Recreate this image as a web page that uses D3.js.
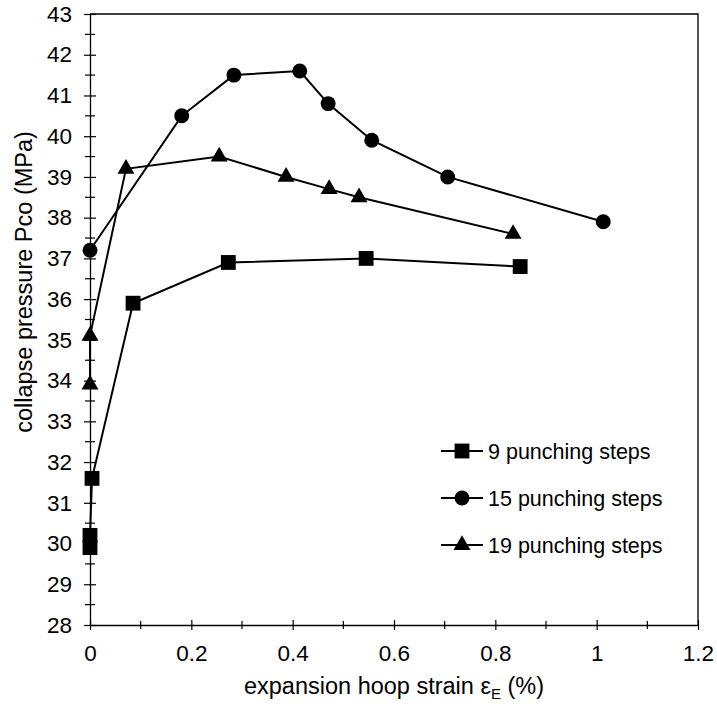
<!DOCTYPE html>
<html>
<head>
<meta charset="utf-8">
<script src="https://cdn.jsdelivr.net/npm/d3@7"></script>
<style>
  html, body { margin: 0; padding: 0; background: #fff; }
  svg { display: block; font-family: "Liberation Sans", Arial, sans-serif; }
</style>
</head>
<body>
<svg id="chart" width="717" height="704"></svg>
<script>
// Collapse pressure vs expansion hoop strain for three punching schedules
const seriesNames = ["9 punching steps", "15 punching steps", "19 punching steps"];
const seriesSymbols = ["square", "circle", "triangle"];

const strain9 = [0, 0, 0.004, 0.085, 0.273, 0.545, 0.849];
const pressure9 = [29.9, 30.2, 31.6, 35.9, 36.9, 37.0, 36.8];

const strain15 = [0, 0.181, 0.284, 0.414, 0.470, 0.556, 0.706, 1.013];
const pressure15 = [37.2, 40.5, 41.5, 41.6, 40.8, 39.9, 39.0, 37.9];

const strain19 = [0, 0, 0.071, 0.255, 0.387, 0.472, 0.531, 0.835];
const pressure19 = [33.9, 35.1, 39.2, 39.5, 39.0, 38.7, 38.5, 37.6];

const xTickValues = [0, 0.2, 0.4, 0.6, 0.8, 1, 1.2];
const yTickValues = [28, 29, 30, 31, 32, 33, 34, 35, 36, 37, 38, 39, 40, 41, 42, 43];

const svg = d3.select("#chart");
const plotLeft = 90, plotRight = 698, plotTop = 14, plotBottom = 625;

const x = d3.scaleLinear().domain([0, 1.2]).range([plotLeft, plotRight]);
const y = d3.scaleLinear().domain([28, 43]).range([plotBottom, plotTop]);

// plot area frame (top and right)
svg.append("path")
  .attr("d", `M${plotLeft},${plotTop}H${plotRight}V${plotBottom}`)
  .attr("fill", "none").attr("stroke", "#000").attr("stroke-width", 1.3);

// minor tick positions
const xMinor = d3.range(0.1, 1.2, 0.2);
const yMinor = d3.range(28.5, 43, 1);

const xAxis = svg.append("g").attr("transform", `translate(0,${plotBottom})`)
  .call(d3.axisBottom(x).tickValues(xTickValues).tickFormat(d3.format("~g")).tickSizeInner(5).tickSizeOuter(0).tickPadding(15));
const yAxis = svg.append("g").attr("transform", `translate(${plotLeft},0)`)
  .call(d3.axisLeft(y).tickValues(yTickValues).tickFormat(d3.format("d")).tickSizeInner(6).tickSizeOuter(0).tickPadding(12));

[xAxis, yAxis].forEach(g => {
  g.select(".domain").attr("stroke", "#000").attr("stroke-width", 1.3);
  g.selectAll(".tick line").attr("stroke", "#000").attr("stroke-width", 1.2);
  g.selectAll(".tick text").attr("font-size", 22.5).attr("fill", "#000")
    .attr("font-family", "Liberation Sans, Arial, sans-serif");
});
// major ticks cross the axis line
xAxis.selectAll(".tick line").attr("y1", -5).attr("y2", 5);
yAxis.selectAll(".tick line").attr("x1", 6).attr("x2", -6);

xAxis.selectAll(".minor").data(xMinor).enter().append("line")
  .attr("x1", d => x(d)).attr("x2", d => x(d)).attr("y1", -4).attr("y2", 4)
  .attr("stroke", "#000").attr("stroke-width", 1.2);
yAxis.selectAll(".minor").data(yMinor).enter().append("line")
  .attr("y1", d => y(d)).attr("y2", d => y(d)).attr("x1", -5).attr("x2", 5)
  .attr("stroke", "#000").attr("stroke-width", 1.2);

// axis titles
svg.append("text")
  .attr("x", 394).attr("y", 694)
  .attr("text-anchor", "middle").attr("font-size", 23.5)
  .html('expansion hoop strain ε<tspan font-size="15" dy="5">E</tspan><tspan dy="-5"> (%)</tspan>');
svg.append("text")
  .attr("transform", "translate(32,282) rotate(-90)")
  .attr("text-anchor", "middle").attr("font-size", 23.5)
  .text("collapse pressure Pco (MPa)");

// marker shapes
const symbolMap = {
  square: d3.symbol().type(d3.symbolSquare).size(220),
  circle: d3.symbol().type(d3.symbolCircle).size(175),
  triangle: d3.symbol().type(d3.symbolTriangle).size(125)
};

const series = [
  { name: seriesNames[0], sym: seriesSymbols[0], xs: strain9, ys: pressure9 },
  { name: seriesNames[1], sym: seriesSymbols[1], xs: strain15, ys: pressure15 },
  { name: seriesNames[2], sym: seriesSymbols[2], xs: strain19, ys: pressure19 }
];

const line = d3.line().x(d => x(d[0])).y(d => y(d[1]));

series.forEach(s => {
  const pts = s.xs.map((v, i) => [v, s.ys[i]]);
  svg.append("path").datum(pts).attr("d", line)
    .attr("fill", "none").attr("stroke", "#000").attr("stroke-width", 2);
  svg.selectAll(null).data(pts).enter().append("path")
    .attr("d", symbolMap[s.sym])
    .attr("transform", d => `translate(${x(d[0])},${y(d[1])})`)
    .attr("fill", "#000");
});

// legend: line sample with the marker in its middle, then the label
const legendY = [451, 498, 545];
series.forEach((s, i) => {
  const g = svg.append("g").attr("transform", `translate(462,${legendY[i]})`);
  g.append("line").attr("x1", -21).attr("x2", 21).attr("y1", 0).attr("y2", 0)
    .attr("stroke", "#000").attr("stroke-width", 2);
  g.append("path").attr("d", symbolMap[s.sym]).attr("fill", "#000");
  g.append("text").attr("x", 26).attr("y", 7.5).attr("font-size", 21.5).text(s.name);
});
</script>
</body>
</html>
